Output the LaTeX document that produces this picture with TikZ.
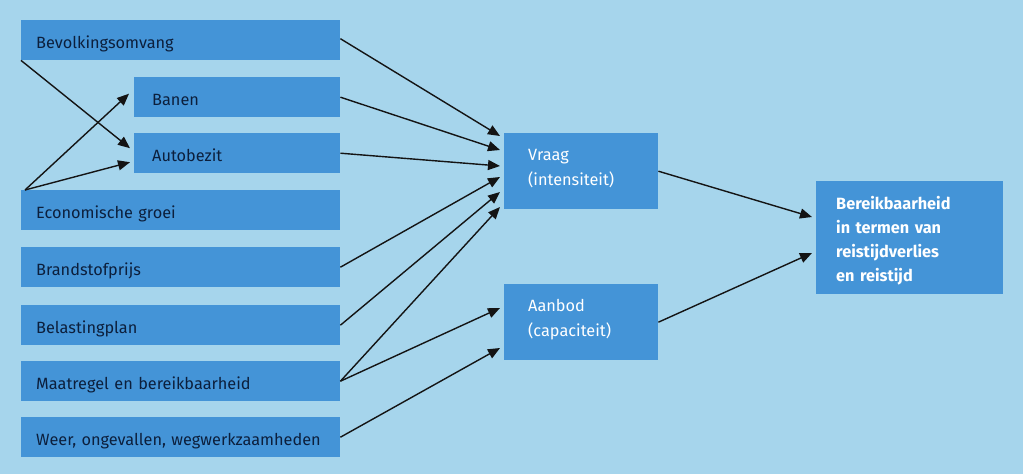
\documentclass[tikz,border=0pt]{standalone}
\usepackage{fontspec}
\setmainfont{Fira Sans}
\usetikzlibrary{arrows.meta,calc}
\definecolor{bgc}{HTML}{A6D5EC}
\definecolor{boxc}{HTML}{4494D7}
\definecolor{navy}{HTML}{0C1F3C}
\tikzset{
  box/.style={rectangle, fill=boxc, anchor=north west, minimum height=40pt, align=left, inner ysep=0pt, font=\fontsize{16.3}{25}\selectfont, text=navy, text height=17pt, text depth=0pt},
  leftbox/.style={box, inner xsep=15pt, text width=289pt},
  subbox/.style={box, inner xsep=18pt, text width=170pt},
  midbox/.style={box, inner xsep=24pt, text width=106pt, minimum height=76pt, text=white, text height=10pt, text depth=32pt},
  endbox/.style={box, inner xsep=20pt, text width=147pt, minimum height=113pt, text=white, font=\fontsize{16.3}{24.2}\selectfont\bfseries, text height=10pt, text depth=67pt},
  arr/.style={line width=1.4pt, -{Triangle[length=12pt,width=10pt]}, black!92}
}
\begin{document}
\begin{tikzpicture}[x=1pt,y=-1pt]
\fill[bgc] (0,0) rectangle (1023,474);
\node[leftbox] (bev) at (21,20) {Bevolkingsomvang};
\node[subbox] (ban) at (134,77) {Banen};
\node[subbox] (auto) at (134,133) {Autobezit};
\node[leftbox] (eco) at (21,190) {Economische groei};
\node[leftbox] (bra) at (21,247) {Brandstofprijs};
\node[leftbox] (bel) at (21,305) {Belastingplan};
\node[leftbox] (maa) at (21,361) {Maatregel en bereikbaarheid};
\node[leftbox] (wee) at (21,417) {Weer, ongevallen, wegwerkzaamheden};
\node[midbox] (vra) at (504,133) {Vraag\\(intensiteit)};
\node[midbox] (aan) at (504,284) {Aanbod\\(capaciteit)};
\node[endbox] (ber) at (816,181) {Bereikbaarheid\\in termen van\\reistijdverlies\\en reistijd};
% left crossings
\draw[arr] (bev.south west) -- ($(auto.west)+(-4,-5)$);
\draw[arr] ($(eco.north west)+(4,0)$) -- ($(ban.west)+(-5,-3.5)$);
\draw[arr] ($(eco.north west)+(4,0)$) -- ($(auto.west)+(-4,9)$);
% to vraag
\draw[arr] ($(bev.east)+(0,-1.5)$) -- ($(vra.north west)+(-4,3)$);
\draw[arr] (ban.east) -- ($(vra.north west)+(-4,17)$);
\draw[arr] (auto.east) -- ($(vra.north west)+(-4,33)$);
\draw[arr] (bra.east) -- ($(vra.north west)+(-4,44)$);
\draw[arr] (bel.east) -- ($(vra.north west)+(-4,59)$);
\draw[arr] (maa.east) -- ($(vra.north west)+(-4,74)$);
% to aanbod
\draw[arr] (maa.east) -- ($(aan.north west)+(-4,24)$);
\draw[arr] (wee.east) -- ($(aan.north west)+(-4,64)$);
% to bereikbaarheid
\draw[arr] (vra.east) -- ($(ber.north west)+(-4,36)$);
\draw[arr] (aan.east) -- ($(ber.north west)+(-4,72)$);
\end{tikzpicture}
\end{document}
